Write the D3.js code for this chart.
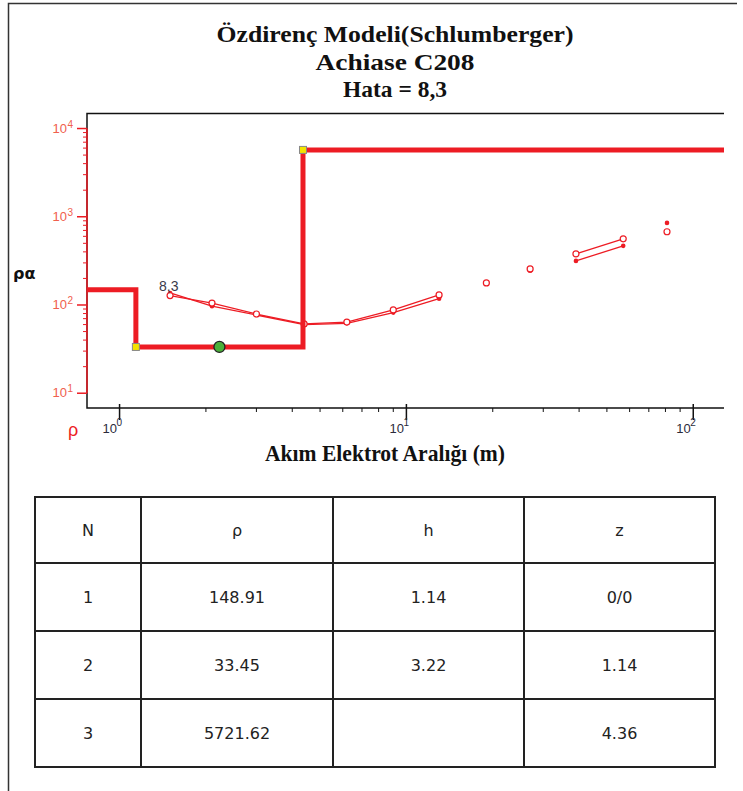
<!DOCTYPE html>
<html>
<head>
<meta charset="utf-8">
<script src="https://cdn.jsdelivr.net/npm/d3@7"></script>
<style>
  html, body { margin: 0; padding: 0; background: #fff; }
  svg { display: block; }
</style>
</head>
<body>
<div id="chart"></div>
<script>
// Layer model (Schlumberger inversion)
const layerN = [1, 2, 3];
const layerRho = [148.91, 33.45, 5721.62];
const layerH = [1.14, 3.22, null];
const layerZ = ["0/0", "1.14", "4.36"];
const layerDepth = [0, 1.14, 4.36];

// Field curve (open circles), broken into segments
const obsSegments = [
    { ab: [1.5, 2.1, 3, 4.4, 6.2, 9, 13], rho: [128, 105, 79, 61, 64, 88, 130] },
    { ab: [19], rho: [178] },
    { ab: [27], rho: [256] },
    { ab: [39, 57], rho: [380, 562] },
    { ab: [81], rho: [676] }
];
// Calculated curve (small dots)
const calcSegments = [
    { ab: [1.5, 2.1, 3, 4.4, 6.2, 9, 13], rho: [137, 97, 77, 60, 62, 82, 118] },
    { ab: [27], rho: [244] },
    { ab: [39, 57], rho: [316, 468] },
    { ab: [81], rho: [852] }
];

const titleLines = ["Özdirenç Modeli(Schlumberger)", "Achiase C208", "Hata = 8,3"];
const errorLabel = "8,3";
const xTitle = "Akım Elektrot Aralığı (m)";
const xMajor = [1, 10, 100];
const yMajor = [10, 100, 1000, 10000];
const tableHeader = ["N", "ρ", "h", "z"];

const W = 743, H = 791;
const RED = "#ed1c24";
const plot = { left: 87, right: 724, top: 113.5, bottom: 408 };

const svg = d3.select("#chart").append("svg")
    .attr("width", W).attr("height", H);

svg.append("rect").attr("width", W).attr("height", H).attr("fill", "#fff");

// outer frame (left + top)
svg.append("path")
    .attr("d", `M8.5,${H + 5} V3.5 H737`)
    .attr("fill", "none").attr("stroke", "#333").attr("stroke-width", 1.5);

// Titles
const titleY = [42, 70, 97];
const titleW = [357, 159, 104];
svg.selectAll(".title").data(titleLines).enter().append("text")
    .attr("class", "title")
    .attr("x", 395).attr("y", (d, i) => titleY[i])
    .attr("text-anchor", "middle")
    .attr("textLength", (d, i) => titleW[i])
    .attr("lengthAdjust", "spacingAndGlyphs")
    .style("font-family", "'Liberation Serif', 'Times New Roman', serif")
    .style("font-weight", "bold").style("font-size", "24px").style("fill", "#111")
    .text(d => d);

// Scales
const x = d3.scaleLog().domain([0.77, 128]).range([plot.left, plot.right]);
const y = d3.scaleLog().domain([6.8, 14800]).range([plot.bottom, plot.top]);

// Plot frame (black): left, top, bottom
const g = svg.append("g");
g.append("path")
    .attr("d", `M${plot.right},${plot.top} H${plot.left} V${plot.bottom} H${plot.right}`)
    .attr("fill", "none").attr("stroke", "#111").attr("stroke-width", 1.5);

// Y axis in red
const yMinor = [];
for (let d = 10; d < 10000; d *= 10) for (let m = 2; m <= 9; m++) yMinor.push(d * m);
g.append("line")
    .attr("x1", plot.left).attr("x2", plot.left)
    .attr("y1", y(10)).attr("y2", y(10000))
    .attr("stroke", RED).attr("stroke-width", 1.5);
g.selectAll(".ymin").data(yMinor).enter().append("line")
    .attr("x1", plot.left - 4).attr("x2", plot.left)
    .attr("y1", d => y(d)).attr("y2", d => y(d))
    .attr("stroke", RED).attr("stroke-width", 1);
g.selectAll(".ymaj").data(yMajor).enter().append("line")
    .attr("x1", plot.left - 10).attr("x2", plot.left)
    .attr("y1", d => y(d)).attr("y2", d => y(d))
    .attr("stroke", RED).attr("stroke-width", 1.5);

g.selectAll(".ylab").data(yMajor).enter().append("text")
    .attr("class", "ylab")
    .attr("x", 67).attr("y", d => y(d) + 4)
    .attr("text-anchor", "end")
    .style("font-family", "'Liberation Sans', Arial, sans-serif")
    .style("font-size", "13px").style("fill", "#f0604d")
    .text("10");
g.selectAll(".ysup").data(yMajor).enter().append("text")
    .attr("x", 67.5).attr("y", d => y(d) - 1)
    .style("font-family", "'Liberation Sans', Arial, sans-serif")
    .style("font-size", "10px").style("fill", "#f0604d")
    .text(d => Math.round(Math.log10(d)));

// X axis ticks (black)
const xMinor = [];
for (let d = 1; d < 100; d *= 10) for (let m = 2; m <= 9; m++) xMinor.push(d * m);
g.selectAll(".xmin").data(xMinor).enter().append("line")
    .attr("x1", d => x(d)).attr("x2", d => x(d))
    .attr("y1", plot.bottom).attr("y2", plot.bottom + 4)
    .attr("stroke", "#111").attr("stroke-width", 1);
g.selectAll(".xmaj").data(xMajor).enter().append("line")
    .attr("x1", d => x(d)).attr("x2", d => x(d))
    .attr("y1", plot.bottom - 4).attr("y2", plot.bottom + 12)
    .attr("stroke", "#111").attr("stroke-width", 1.5);
g.selectAll(".xlab").data(xMajor).enter().append("text")
    .attr("x", d => x(d) - 2.5).attr("y", 433)
    .attr("text-anchor", "end")
    .style("font-family", "'Liberation Sans', Arial, sans-serif")
    .style("font-size", "13px").style("fill", "#2b2b3b")
    .text("10");
g.selectAll(".xsup").data(xMajor).enter().append("text")
    .attr("x", d => x(d) - 3).attr("y", 426)
    .style("font-family", "'Liberation Sans', Arial, sans-serif")
    .style("font-size", "10px").style("fill", "#2b2b3b")
    .text(d => Math.round(Math.log10(d)));

// axis labels
svg.append("text").attr("x", 68).attr("y", 436)
    .style("font-family", "'Liberation Sans', Arial, sans-serif")
    .style("font-size", "18px").style("fill", RED).text("ρ");
svg.append("text").attr("x", 13).attr("y", 279)
    .style("font-family", "'DejaVu Sans', sans-serif")
    .style("font-weight", "bold").style("font-size", "16px").style("fill", "#111")
    .text("ρα");
svg.append("text").attr("x", 385).attr("y", 461)
    .attr("text-anchor", "middle")
    .attr("textLength", 240).attr("lengthAdjust", "spacingAndGlyphs")
    .style("font-family", "'Liberation Serif', 'Times New Roman', serif")
    .style("font-weight", "bold").style("font-size", "23px").style("fill", "#111")
    .text(xTitle);

// Data curves
const line = d3.line().x(d => x(d[0])).y(d => y(d[1]));
const toPts = s => s.ab.map((a, i) => [a, s.rho[i]]);

g.selectAll(".calc").data(calcSegments).enter().append("path")
    .attr("d", s => line(toPts(s)))
    .attr("fill", "none").attr("stroke", RED).attr("stroke-width", 1.3);
g.selectAll(".obs").data(obsSegments).enter().append("path")
    .attr("d", s => line(toPts(s)))
    .attr("fill", "none").attr("stroke", RED).attr("stroke-width", 1.3);

// markers
g.selectAll(".cdot").data(calcSegments.flatMap(toPts)).enter().append("circle")
    .attr("cx", d => x(d[0])).attr("cy", d => y(d[1])).attr("r", 2.3)
    .attr("fill", RED);
g.selectAll(".odot").data(obsSegments.flatMap(toPts)).enter().append("circle")
    .attr("cx", d => x(d[0])).attr("cy", d => y(d[1])).attr("r", 3)
    .attr("fill", "#fff").attr("stroke", RED).attr("stroke-width", 1.2);

// Model step line (drawn over the sounding curve)
const modelPts = [];
layerRho.forEach((r, i) => {
    const top = i === 0 ? x.domain()[0] : layerDepth[i];
    const bot = i < layerRho.length - 1 ? layerDepth[i + 1] : x.domain()[1];
    modelPts.push([top, r], [bot, r]);
});
g.append("path")
    .attr("d", line(modelPts))
    .attr("fill", "none").attr("stroke", RED).attr("stroke-width", 5)
    .attr("stroke-linejoin", "miter");

// layer boundary handles
const corners = layerDepth.slice(1).map((d, i) => [d, layerRho[i + 1]]);
g.selectAll(".handle").data(corners).enter().append("rect")
    .attr("x", d => x(d[0]) - 3.5).attr("y", d => y(d[1]) - 3.5)
    .attr("width", 7).attr("height", 7)
    .attr("fill", "#f4e400").attr("stroke", "#888").attr("stroke-width", 1);
// layer centre handle (layer 2)
g.append("circle")
    .attr("cx", x(Math.sqrt(layerDepth[1] * layerDepth[2])))
    .attr("cy", y(layerRho[1])).attr("r", 5.5)
    .attr("fill", "#4caf3a").attr("stroke", "#222").attr("stroke-width", 1.3);

// error label at first point
g.append("text")
    .attr("x", x(obsSegments[0].ab[0]) - 11).attr("y", y(obsSegments[0].rho[0]) - 5)
    .style("font-family", "'Liberation Sans', Arial, sans-serif")
    .style("font-size", "14px").style("fill", "#3a3a4a")
    .text(errorLabel);

// Table
const colX = [35, 141, 333, 524, 715];
const rowY = [497, 563, 631, 699, 767];
const fmt = v => v == null ? "" : (typeof v === "number" ? v.toFixed(2) : v);
const rows = [tableHeader].concat(layerN.map((n, i) => [String(n), fmt(layerRho[i]), fmt(layerH[i]), layerZ[i]]));

const tg = svg.append("g");
rowY.forEach(yy => tg.append("line")
    .attr("x1", colX[0] - 1).attr("x2", colX[4] + 1).attr("y1", yy).attr("y2", yy)
    .attr("stroke", "#222").attr("stroke-width", 2));
colX.forEach(xx => tg.append("line")
    .attr("x1", xx).attr("x2", xx).attr("y1", rowY[0]).attr("y2", rowY[4])
    .attr("stroke", "#222").attr("stroke-width", 2));
rows.forEach((r, ri) => r.forEach((c, ci) => {
    tg.append("text")
        .attr("x", (colX[ci] + colX[ci + 1]) / 2)
        .attr("y", (rowY[ri] + rowY[ri + 1]) / 2 + 6)
        .attr("text-anchor", "middle")
        .style("font-family", "'DejaVu Sans', Verdana, sans-serif")
        .style("font-size", "16px").style("fill", "#222")
        .text(c);
}));
</script>
</body>
</html>
